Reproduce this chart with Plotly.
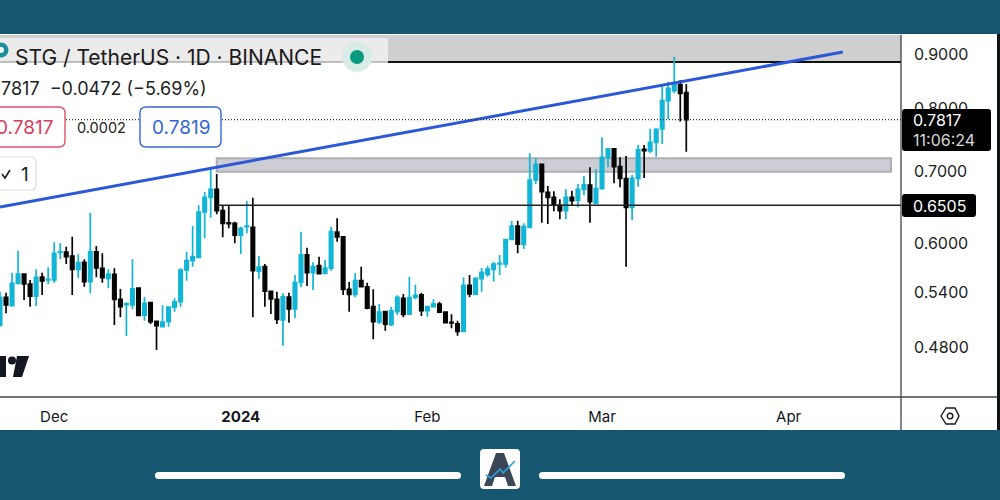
import pandas as pd
import plotly.graph_objects as go

# Daily candles, STG / TetherUS
start_date = "2023-11-22"
opens = [.5031,.5339,.5244,.5502,.5613,.5494,.5354,.5577,.5542,.5542,.5881,.5884,.5834,.5670,.5756,.5521,.5888,.5683,.5562,.5609,
         .5317,.5255,.5252,.5447,.5140,.5278,.5071,.5013,.5067,.5229,.5289,.5662,.5776,.5818,.6412,.6617,.6732,.6430,.6266,.6258,
         .6103,.6213,.6205,.5649,.5702,.5409,.5317,.5086,.5343,.5207,.5514,.5850,.5629,.5714,.5621,.5683,.6143,.6080,.5432,.5374,
         .5533,.5462,.5233,.5064,.5177,.5035,.5177,.5328,.5151,.5339,.5369,.5188,.5233,.5263,.5173,.5060,.5045,.4964,.5479,.5377,
         .5557,.5609,.5670,.5735,.5735,.6047,.6222,.5986,.6205,.6868,.7103,.6689,.6617,.6505,.6430,.6617,.6579,.6732,.6794,.6532,
         .6741,.7211,.7344,.7067,.6887,.6477,.6893,.7336,.7309,.7446,.7662,.8142,.8319,.8426,.8283]
highs = [.5403,.5392,.5629,.5901,.5620,.5542,.5670,.5629,.5695,.6008,.5995,.5952,.6081,.5855,.5793,.6402,.5960,.5868,.5670,.5683,
         .5436,.5282,.5793,.5455,.5346,.5282,.5078,.5248,.5233,.5328,.5683,.5888,.6222,.6505,.6697,.7048,.6957,.6509,.6495,.6280,
         .6213,.6565,.6612,.5834,.5735,.5412,.5404,.5385,.5392,.5601,.6147,.5939,.5756,.5826,.5785,.6213,.6326,.6081,.5518,.5621,
         .5702,.5510,.5432,.5263,.5181,.5233,.5362,.5377,.5581,.5486,.5392,.5241,.5317,.5289,.5181,.5148,.5078,.5574,.5601,.5574,
         .5686,.5714,.5763,.5847,.6047,.6289,.6293,.6258,.7273,.7196,.7108,.6780,.6703,.6589,.6732,.6712,.6809,.6927,.7058,.7028,
         .7527,.7352,.7346,.7211,.7231,.6942,.7408,.7403,.7667,.7674,.8434,.8481,.8948,.8512,.8439]
lows = [.5013,.5159,.5240,.5498,.5309,.5233,.5241,.5366,.5494,.5510,.5793,.5735,.5366,.5562,.5462,.5385,.5574,.5510,.5444,.5031,
        .5115,.4914,.5204,.5129,.5078,.5042,.4768,.5007,.5013,.5177,.5233,.5533,.5702,.5806,.6060,.6334,.6380,.6073,.6192,.5995,
        .5859,.6125,.5115,.5557,.5233,.5151,.5042,.4812,.5056,.5104,.5455,.5471,.5424,.5609,.5613,.5653,.6016,.5366,.5177,.5339,
        .5455,.5204,.4879,.5042,.4970,.5021,.5140,.5115,.5140,.5317,.5129,.5122,.5222,.5159,.5049,.4996,.4917,.4960,.5339,.5362,
        .5404,.5581,.5521,.5601,.5690,.6038,.5868,.5922,.6196,.6805,.6266,.6249,.6421,.6312,.6312,.6495,.6477,.6646,.6266,.6523,
        .6732,.7058,.6819,.6761,.5702,.6303,.6770,.6898,.7273,.7220,.7419,.7824,.8272,.7786,.7298]
closes = [.5339,.5252,.5502,.5613,.5494,.5354,.5574,.5530,.5550,.5868,.5888,.5826,.5670,.5751,.5521,.5888,.5686,.5569,.5613,.5317,
          .5233,.5266,.5436,.5137,.5271,.5067,.5024,.5064,.5229,.5289,.5662,.5776,.5826,.6412,.6617,.6732,.6430,.6258,.6253,.6103,
          .6192,.6222,.5653,.5698,.5412,.5320,.5093,.5346,.5207,.5510,.5850,.5629,.5702,.5617,.5686,.6147,.6077,.5432,.5374,.5533,
          .5462,.5218,.5067,.5173,.5042,.5188,.5339,.5148,.5335,.5362,.5188,.5233,.5263,.5173,.5056,.5053,.4964,.5479,.5380,.5562,
          .5634,.5674,.5735,.5744,.6042,.6222,.5986,.6213,.6868,.7103,.6697,.6617,.6509,.6430,.6617,.6570,.6732,.6799,.6555,.6741,
          .7211,.7341,.7067,.6893,.6477,.6893,.7325,.7314,.7446,.7658,.8142,.8362,.8452,.8272,.7817]

y_ticks = [0.48, 0.54, 0.60, 0.70, 0.80, 0.90]
y_tick_text = ["0.4800", "0.5400", "0.6000", "0.7000", "0.8000", "0.9000"]
x_ticks = ["2023-12-01", "2024-01-01", "2024-02-01", "2024-03-01", "2024-04-01"]
x_tick_text = ["Dec", "<b>2024</b>", "Feb", "Mar", "Apr"]

trend_dates = ["2023-11-22", "2024-04-10"]
trend_prices = [0.6481, 0.9039]
support_dates = ["2023-12-28", "2024-04-19 16:00"]
support_prices = [0.6505, 0.6505]
zone_dates = ["2023-12-28", "2024-04-18"]
zone_prices = [0.7196, 0.6990]
last_price = 0.7817

dates = pd.date_range(start_date, periods=len(closes), freq="D")

W, H = 1000, 500
L, R, T, B = 0, 901, 35, 397
FONT = "Inter"
INK = "#131722"
TEAL = "#12b5d6"
BAND = "#16566f"


def fx(px):
    return (px - L) / (R - L)


def fy(py):
    return (B - py) / (B - T)


def rect(x0, y0, x1, y1, fill, line=None, lw=0, layer="above"):
    return dict(type="rect", xref="paper", yref="paper", x0=fx(x0), x1=fx(x1), y0=fy(y0), y1=fy(y1),
                fillcolor=fill, line=dict(color=line or fill, width=lw), layer=layer)


def path(points, fill=None, line=None, lw=0, layer="above", close=True):
    d = "M" + " L".join(f"{fx(a):.5f},{fy(b):.5f}" for a, b in points) + (" Z" if close else "")
    return dict(type="path", xref="paper", yref="paper", path=d, fillcolor=fill or "rgba(0,0,0,0)",
                line=dict(color=line or "rgba(0,0,0,0)", width=lw), layer=layer)


def rrect(x0, y0, x1, y1, r, fill, line=None, lw=0, layer="above"):
    c = lambda a, b: f"{fx(a):.5f},{fy(b):.5f}"
    d = (f"M{c(x0+r,y0)} L{c(x1-r,y0)} Q{c(x1,y0)} {c(x1,y0+r)} L{c(x1,y1-r)} Q{c(x1,y1)} {c(x1-r,y1)} "
         f"L{c(x0+r,y1)} Q{c(x0,y1)} {c(x0,y1-r)} L{c(x0,y0+r)} Q{c(x0,y0)} {c(x0+r,y0)} Z")
    return dict(type="path", xref="paper", yref="paper", path=d, fillcolor=fill,
                line=dict(color=line or fill, width=lw), layer=layer)


def circle(cx, cy, r, fill, line=None, lw=0, layer="above"):
    return dict(type="circle", xref="paper", yref="paper", x0=fx(cx - r), x1=fx(cx + r),
                y0=fy(cy + r), y1=fy(cy - r), fillcolor=fill,
                line=dict(color=line or fill, width=lw), layer=layer)


def label(px, py, text, size, color=INK, anchor="left", family=FONT):
    return dict(xref="paper", yref="paper", x=fx(px), y=fy(py), text=text, showarrow=False,
                xanchor=anchor, yanchor="middle", xshift=0, align=anchor,
                font=dict(family=family, size=size, color=color), borderpad=0, borderwidth=0)


fig = go.Figure()
fig.add_trace(go.Scatter(x=support_dates, y=support_prices, mode="lines",
                         line=dict(color="#222222", width=1.4), hoverinfo="skip"))
fig.add_trace(go.Candlestick(x=dates, open=opens, high=highs, low=lows, close=closes,
                             increasing=dict(line=dict(color=TEAL, width=1.7), fillcolor=TEAL),
                             decreasing=dict(line=dict(color="#050505", width=1.7), fillcolor="#050505"),
                             whiskerwidth=0))
fig.add_trace(go.Scatter(x=trend_dates, y=trend_prices, mode="lines",
                         line=dict(color="#2a58d8", width=3), hoverinfo="skip"))
fig.add_trace(go.Scatter(x=[start_date, support_dates[1]], y=[last_price, last_price], mode="lines",
                         line=dict(color="#333333", width=1.2, dash="1px 2px"), hoverinfo="skip"))

shapes = [
    # header band of the chart
    rect(0, 35, 901, 62, "#cfcfcf", layer="below"),
    rect(0, 38, 388, 62, "#ebebeb", layer="below"),
    dict(type="line", xref="paper", yref="paper", x0=fx(0), x1=fx(388), y0=fy(62), y1=fy(62),
         line=dict(color="#8a8a8a", width=1.2), layer="below"),
    dict(type="line", xref="paper", yref="paper", x0=fx(388), x1=fx(901), y0=fy(62), y1=fy(62),
         line=dict(color="#111111", width=2), layer="below"),
    # grey zone
    dict(type="rect", xref="x", yref="y", x0=zone_dates[0], x1=zone_dates[1], y0=zone_prices[0], y1=zone_prices[1],
         fillcolor="#cdcdd4", line=dict(color="#aeaeb4", width=2), layer="below"),
    # frame
    dict(type="line", xref="paper", yref="paper", x0=fx(901), x1=fx(901), y0=fy(35), y1=fy(430),
         line=dict(color="#333333", width=1.2), layer="above"),
    dict(type="line", xref="paper", yref="paper", x0=fx(0), x1=fx(997), y0=fy(397), y1=fy(397),
         line=dict(color="#444444", width=1.5), layer="above"),
    rect(997, 34, 1000, 430, "#0c1418"),
    # legend boxes
    rrect(-12, 107, 65, 147, 6, "#ffffff", "#e0506e", 1.4),
    rrect(140, 107, 221, 147, 6, "#ffffff", "#3465d8", 1.4),
    rrect(-12, 157, 36, 190, 5, "#ffffff", "#dddddd", 1.2),
    path([(2, 174), (5, 178), (10, 170)], line="#222222", lw=1.6, close=False),
    # green status dot, symbol icon
    circle(357, 57, 15, "#d7ebe7"),
    circle(357, 57, 7, "#089981"),
    circle(1, 50, 7.5, "#1c8f9f"),
    circle(1, 50, 3, "#f4f4f4"),
    # price tags
    rrect(902, 109, 991, 151, 3, "#000000"),
    rrect(902, 194, 976, 217, 3, "#000000"),
    # TradingView mark, cut by the left edge
    rect(0, 356, 6, 377, "#131722"),
    circle(12, 360.5, 4, "#131722"),
    path([(17, 356), (29, 356), (22, 377), (13, 377)], fill="#131722"),
    # settings hexagon
    path([(941, 416), (946, 408), (955, 408), (959, 416), (955, 424), (946, 424)], line="#1c1c1c", lw=1.4),
    circle(950, 416, 2.8, "#ffffff", "#1c1c1c", 1.4),
    # page bands
    rect(-5, -5, 1005, 34, BAND),
    rect(-5, 430, 1005, 505, BAND),
    rrect(155, 472, 461, 479, 3.5, "#ffffff"),
    rrect(539, 472, 845, 479, 3.5, "#ffffff"),
    rrect(480, 449, 520, 489, 4, "#ffffff"),
    path([(484, 486), (496, 453), (504, 453), (516, 486), (508, 486), (505, 477), (495, 477), (492, 486)],
         fill="#3b4656"),
    path([(486, 475), (491, 478), (500, 469), (503, 473), (515, 461)], line="#2f9fe0", lw=1.6, close=False),
]

annotations = [
    label(15, 57.5, "STG / TetherUS · 1D · BINANCE", 21, "#1a1a1a"),
    label(1, 88, "7817 \u00a0−0.0472 (−5.69%)", 18, "#222222"),
    label(53, 127, "0.7817", 19, "#d8405f", anchor="right"),
    label(77, 127, "0.0002", 14.5, "#222222"),
    label(181, 127, "0.7819", 19, "#3465d8", anchor="center"),
    label(25, 174, "1", 19, "#222222", anchor="center"),
    label(913, 120, "0.7817", 16, "#ffffff"),
    label(913, 140, "11:06:24", 16, "#d9d9d9"),
    label(913, 206, "0.6505", 16, "#ffffff"),
]

fig.update_layout(
    width=W, height=H, autosize=False, showlegend=False,
    margin=dict(l=L, r=W - R, t=T, b=H - B, pad=0),
    paper_bgcolor="#ffffff", plot_bgcolor="#ffffff",
    font=dict(family=FONT, color=INK),
    boxgap=0.2,
    shapes=shapes, annotations=annotations,
    xaxis=dict(type="date", range=[start_date, "2024-04-19 16:00"], rangeslider=dict(visible=False),
               tickmode="array", tickvals=x_ticks, ticktext=x_tick_text, tickfont=dict(size=15, color=INK),
               showgrid=False, zeroline=False, ticks="", ticklabelstandoff=9, showline=False, tickangle=0),
    yaxis=dict(type="log", range=[-0.3654, -0.02805], side="right",
               tickmode="array", tickvals=y_ticks, ticktext=y_tick_text, tickfont=dict(size=16, color="#222222"),
               showgrid=False, zeroline=False, ticks="", ticklabelstandoff=12, showline=False, automargin=False),
)

fig.write_html("out.html", config=dict(displayModeBar=False),
               post_script="document.body.style.margin='0';document.body.style.background='#ffffff';")
